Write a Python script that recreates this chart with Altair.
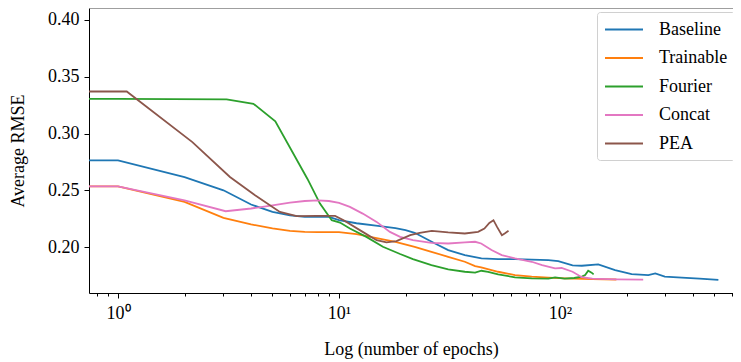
import altair as alt
import pandas as pd

series = ["Baseline", "Trainable", "Fourier", "Concat", "PEA"]
colors = ["#1f77b4", "#ff7f0e", "#2ca02c", "#e377c2", "#8c564b"]

baseline_x = [0.5, 1, 2, 3, 4, 5, 6, 7, 8, 9, 10, 12, 15, 18, 20, 22, 27.2, 31.2, 37.1, 44.1, 52.5,
              62.6, 74.5, 88.6, 98.2, 114, 125.6, 149, 177.6, 211, 251, 270, 298, 356, 428, 521]
baseline_y = [0.2763, 0.2763, 0.2617, 0.2500, 0.2375, 0.2310, 0.2280, 0.2266, 0.2266, 0.2266, 0.2237,
              0.2210, 0.2187, 0.2167, 0.2150, 0.2126, 0.2032, 0.1974, 0.1930, 0.1900, 0.1895, 0.1895,
              0.1890, 0.1886, 0.1877, 0.1840, 0.1836, 0.1848, 0.1798, 0.1763, 0.1754, 0.1769, 0.1740,
              0.1731, 0.1722, 0.1711]

trainable_x = [0.5, 1, 2, 3, 4, 5, 6, 7, 8, 10, 12, 15, 18, 22, 26.2, 31.2, 37.1, 41.3, 44, 52.5,
               62.6, 74.5, 88.6, 105, 140, 180]
trainable_y = [0.2535, 0.2535, 0.2398, 0.2257, 0.2200, 0.2164, 0.2143, 0.2134, 0.2132, 0.2132, 0.2114,
               0.2076, 0.2047, 0.2003, 0.1959, 0.1915, 0.1871, 0.1833, 0.1822, 0.1783, 0.1754, 0.1740,
               0.1731, 0.1725, 0.1718, 0.1715]

fourier_x = [0.5, 1, 3.1, 4.1, 5.15, 7.2, 8.2, 9.27, 10.1, 11.2, 13.3, 15.8, 18.9, 21.6, 26.2, 31.2,
             37.1, 41.3, 44.1, 47.3, 52.5, 62.6, 74.5, 88.6, 95, 105, 116, 125.6, 130, 134.2, 139, 142]
fourier_y = [0.3305, 0.3305, 0.3300, 0.3262, 0.3108, 0.2600, 0.2383, 0.2237, 0.2216, 0.2164, 0.2090,
             0.2003, 0.1939, 0.1895, 0.1842, 0.1804, 0.1783, 0.1775, 0.1792, 0.1783, 0.1760, 0.1734,
             0.1725, 0.1722, 0.1734, 0.1722, 0.1728, 0.1740, 0.1754, 0.1792, 0.1775, 0.1760]

concat_x = [0.5, 1, 2, 3.07, 4, 5, 6, 7, 8, 9, 10, 11.2, 12.8, 14.8, 17, 18.9, 21.6, 26.2, 31.2, 37.1,
            41.3, 44, 49, 54.5, 62.6, 74.5, 83, 95, 101.7, 114, 125.6, 140, 180, 238]
concat_y = [0.2535, 0.2535, 0.2412, 0.2316, 0.2340, 0.2368, 0.2392, 0.2406, 0.2412, 0.2406, 0.2389,
            0.2354, 0.2295, 0.2222, 0.2134, 0.2090, 0.2061, 0.2038, 0.2032, 0.2041, 0.2047, 0.2032,
            0.1974, 0.1930, 0.1900, 0.1871, 0.1842, 0.1813, 0.1816, 0.1783, 0.1735, 0.1722, 0.1716,
            0.1714]

pea_x = [0.5, 1.095, 2.17, 3.21, 4.17, 5.4, 6.44, 7.9, 9.6, 10.5, 12.8, 14.8, 16.4, 18.2, 21, 23.2,
         26.3, 31.2, 37.1, 42.6, 45.5, 47.9, 50, 51.9, 54.6, 56.2, 58.5]
pea_y = [0.3370, 0.3370, 0.2924, 0.2617, 0.2456, 0.2310, 0.2272, 0.2275, 0.2275, 0.2237, 0.2134,
         0.2061, 0.2041, 0.2053, 0.2105, 0.2126, 0.2143, 0.2129, 0.2120, 0.2134, 0.2164, 0.2213,
         0.2237, 0.2178, 0.2105, 0.2120, 0.2143]

y_ticks = [0.20, 0.25, 0.30, 0.35, 0.40]
x_major = [1, 10, 100]
x_minor = [0.8, 0.9, 2, 3, 4, 5, 6, 7, 8, 9, 20, 30, 40, 50, 60, 70, 80, 90, 200, 300, 400, 500, 600]

rows = []
for name, xs, ys in zip(series,
                        [baseline_x, trainable_x, fourier_x, concat_x, pea_x],
                        [baseline_y, trainable_y, fourier_y, concat_y, pea_y]):
    for i, (x, y) in enumerate(zip(xs, ys)):
        rows.append({"series": name, "epoch": x, "rmse": y, "order": i})
df = pd.DataFrame(rows)

W, H = 644, 285
FONT = "Liberation Serif"

xscale = alt.Scale(type="log", domain=[0.739, 606.7], nice=False)
yscale = alt.Scale(domain=[0.1596, 0.4105], nice=False, zero=False)

y_enc = alt.Y("rmse:Q", scale=yscale,
              axis=alt.Axis(values=y_ticks, format=".2f", title="Average RMSE",
                            labelFont=FONT, titleFont=FONT, labelFontSize=18, titleFontSize=18,
                            tickSize=5, labelPadding=5, titlePadding=20, grid=False))

lines = alt.Chart(df).mark_line(clip=True, strokeWidth=1.8).encode(
    x=alt.X("epoch:Q", scale=xscale,
            axis=alt.Axis(values=x_major, orient="bottom", grid=False, tickSize=5,
                          labelFont=FONT, titleFont=FONT, labelFontSize=18, titleFontSize=18,
                          labelPadding=6, titlePadding=18,
                          title="Log (number of epochs)",
                          labelExpr="datum.value == 1 ? '10⁰' : (datum.value == 10 ? '10¹' : '10²')")),
    y=y_enc,
    color=alt.Color("series:N", scale=alt.Scale(domain=series, range=colors),
                    legend=alt.Legend(title=None, orient="none", legendX=508, legendY=4,
                                      symbolType="M-1,0H3", symbolSize=361, symbolStrokeWidth=2,
                                      labelFont=FONT, labelFontSize=18, labelColor="black",
                                      labelOffset=34, rowPadding=8.5, padding=7,
                                      strokeColor="#d0d0d0", cornerRadius=3,
                                      fillColor="white")),
    detail="series:N",
    order="order:Q",
)

minor = alt.Chart(df).mark_line(opacity=0).encode(
    x=alt.X("epoch:Q", scale=xscale,
            axis=alt.Axis(values=x_minor, orient="bottom", grid=False, tickSize=3,
                          labels=False, domain=False, title=None)),
    y=y_enc,
)

top = alt.Chart(pd.DataFrame({"v": [0]})).mark_rule(color="#7f7f7f", strokeWidth=1.5).encode(
    x=alt.value(0), x2=alt.value(W), y=alt.value(0)
)

chart = alt.layer(minor, lines, top).resolve_axis(x="independent").properties(
    width=W, height=H,
    autosize=alt.AutoSizeParams(type="none"),
    padding={"left": 81, "top": 0, "right": 0, "bottom": 69},
).configure_view(stroke=None).configure_axis(
    labelFont=FONT, titleFont=FONT, labelFontSize=18, titleFontSize=18,
    labelColor="black", titleColor="black", titleFontWeight="normal",
    domainColor="black", tickColor="black", domainWidth=1,
)

chart.save("out.html", embed_options={"renderer": "svg", "actions": False})
